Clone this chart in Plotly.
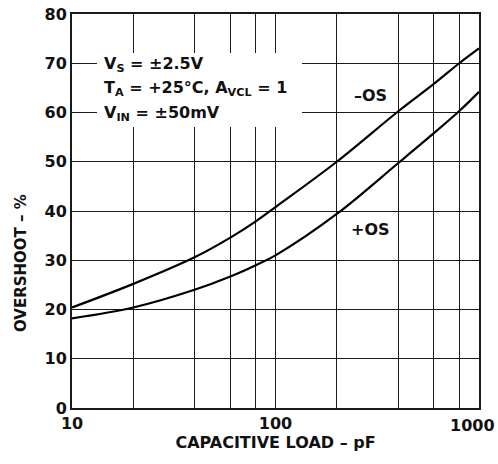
import plotly.graph_objects as go

cap_load_pf = [10, 20, 40, 60, 80, 100, 200, 400, 600, 800, 1000]
neg_os = [20.4, 25.2, 30.6, 34.6, 37.9, 40.8, 50.0, 60.2, 65.8, 70.0, 73.0]
pos_os = [18.2, 20.4, 24.0, 26.7, 29.0, 31.0, 39.4, 49.7, 55.8, 60.3, 64.2]

x_major = [10, 100, 1000]
x_labels = ["10", "100", "1000"]
x_minor = [20, 40, 60, 80, 200, 400, 600, 800]
y_ticks = [0, 10, 20, 30, 40, 50, 60, 70, 80]

FONT = "DejaVu Sans"
L, R, T, B = 72, 19, 14, 56
W, H = 498, 464
PW, PH = W - L - R, H - T - B

def px(X):
    return (X - L) / PW

def py(Y):
    return (H - B - Y) / PH

fig = go.Figure()
fig.add_trace(go.Scatter(x=cap_load_pf, y=neg_os, mode="lines",
                         line=dict(color="black", width=2.2, shape="spline"),
                         showlegend=False, hoverinfo="skip"))
fig.add_trace(go.Scatter(x=cap_load_pf, y=pos_os, mode="lines",
                         line=dict(color="black", width=2.2, shape="spline"),
                         showlegend=False, hoverinfo="skip"))

fig.add_shape(type="rect", xref="paper", yref="paper",
              x0=px(97), x1=px(302), y0=py(127), y1=py(53),
              fillcolor="white", line=dict(width=0), layer="above")

bold = dict(family=FONT, size=16, color="#111", weight="bold")
for txt, yy in [("V<sub>S</sub> = ±2.5V", 64),
                ("T<sub>A</sub> = +25°C, A<sub>VCL</sub> = 1", 89),
                ("V<sub>IN</sub> = ±50mV", 113)]:
    fig.add_annotation(text=txt, xref="paper", yref="paper", x=px(102), y=py(yy),
                       xanchor="left", yanchor="middle", showarrow=False, font=bold)

fig.add_annotation(text="–OS", xref="paper", yref="paper", x=px(370), y=py(95),
                   xanchor="center", yanchor="middle", showarrow=False, font=bold)
fig.add_annotation(text="+OS", xref="paper", yref="paper", x=px(370), y=py(229),
                   xanchor="center", yanchor="middle", showarrow=False, font=bold)

# last x tick label drawn as annotation so it is not hidden at the page edge
fig.add_annotation(text=x_labels[-1], xref="paper", yref="paper", x=px(497), y=py(425),
                   xanchor="right", yanchor="middle", showarrow=False, font=bold)

fig.add_annotation(text="OVERSHOOT – %", xref="paper", yref="paper",
                   x=px(21), y=py(263), textangle=-90, xanchor="center", yanchor="middle",
                   showarrow=False, font=dict(family=FONT, size=15, color="#111", weight="bold"))

grid_col = "#1a1a1a"
fig.update_layout(
    width=W, height=H,
    margin=dict(l=L, r=R, t=T, b=B, autoexpand=False),
    paper_bgcolor="white", plot_bgcolor="white",
    font=dict(family=FONT, size=16, color="#111", weight="bold"),
    xaxis=dict(type="log", range=[1, 3], tickvals=x_major[:-1], ticktext=x_labels[:-1],
               showgrid=True, gridcolor=grid_col, gridwidth=1.4,
               minor=dict(tickvals=x_minor, showgrid=True, gridcolor=grid_col,
                          gridwidth=1.4, ticks=""),
               showline=True, mirror=True, linecolor=grid_col, linewidth=2,
               ticks="", zeroline=False, automargin=False,
               title=dict(text="CAPACITIVE LOAD – pF", standoff=4,
                          font=dict(family=FONT, size=16, color="#111", weight="bold"))),
    yaxis=dict(range=[0, 80], tickvals=y_ticks,
               showgrid=True, gridcolor=grid_col, gridwidth=1.4,
               showline=True, mirror=True, linecolor=grid_col, linewidth=2,
               ticks="", zeroline=False, automargin=False),
)

fig.write_html("out.html", config={"displayModeBar": False},
               post_script="document.body.style.margin='0';document.body.style.padding='0';")
